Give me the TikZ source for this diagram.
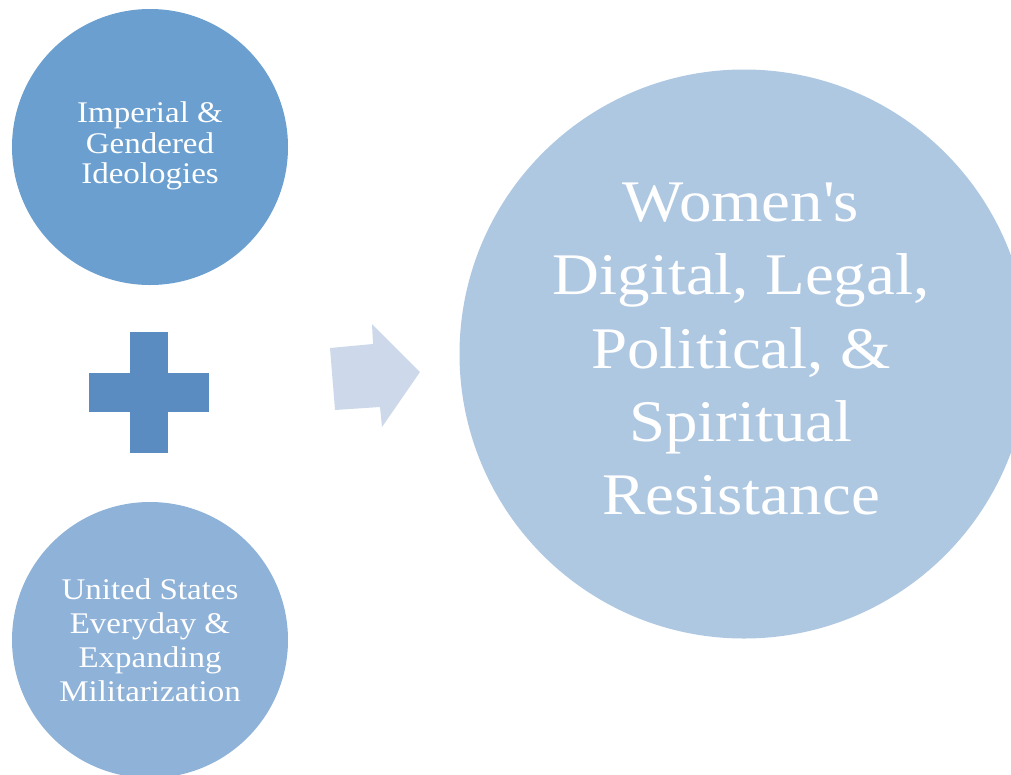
\documentclass[tikz,border=0pt]{standalone}
\usepackage{fontspec}
\setmainfont[FakeStretch=1.1]{Liberation Serif}
\definecolor{cTop}{RGB}{106,159,207}
\definecolor{cBot}{RGB}{143,178,216}
\definecolor{cBig}{RGB}{175,200,226}
\definecolor{cPlus}{RGB}{90,140,193}
\definecolor{cArrow}{RGB}{205,217,234}
\tikzset{
  bubble/.style={circle, inner sep=0pt, draw=none},
  smalltext/.style={text=white, align=center, inner sep=0pt},
}
\begin{document}
\begin{tikzpicture}[x=1pt,y=-1pt]
\useasboundingbox (0,0) rectangle (1011,774);
\clip (0,0) rectangle (1011,774);
% circles
\node[bubble, fill=cTop, minimum size=276pt] (ideo) at (150,147) {};
\node[bubble, fill=cBot, minimum size=276pt] (mil) at (150,640) {};
\node[bubble, fill=cBig, minimum size=569pt] (res) at (744,354) {};
% texts
\node[smalltext, font=\fontsize{30}{30.3}\selectfont] (ideoT) at (150,146)
  {Imperial \&\\Gendered\\Ideologies};
\node[smalltext, font=\fontsize{30}{34}\selectfont] (milT) at (150,640)
  {United States\\Everyday \&\\Expanding\\Militarization};
\node[smalltext, font=\fontsize{59}{73.3}\selectfont] (resT) at (741,349)
  {Women\textquotesingle s\\Digital, Legal,\\Political, \&\\Spiritual\\Resistance};
% plus sign
\fill[cPlus] (130,332) rectangle (168,453);
\fill[cPlus] (89,373) rectangle (209,412);
% arrow
\fill[cArrow] (330,348) -- (373,344) -- (372,324) -- (420,372) -- (382,427)
  -- (380,407) -- (335,410) -- cycle;
\end{tikzpicture}
\end{document}
